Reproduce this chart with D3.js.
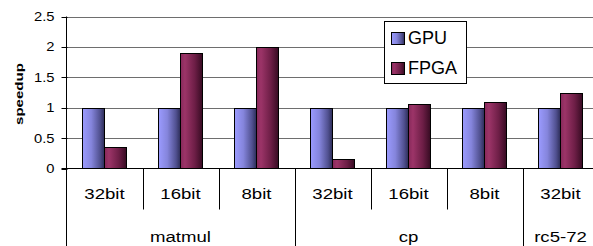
<!DOCTYPE html>
<html>
<head>
<meta charset="utf-8">
<script src="https://cdn.jsdelivr.net/npm/d3@7"></script>
<style>
  html, body { margin: 0; padding: 0; background: #fff; }
  svg { display: block; font-family: "Liberation Sans", Arial, sans-serif; }
</style>
</head>
<body>
<svg id="chart" width="593" height="246"></svg>
<script>
// ---- data ----
const categories = ["32bit", "16bit", "8bit", "32bit", "16bit", "8bit", "32bit"];
const groups = ["matmul", "cp", "rc5-72"];
const groupSizes = [3, 3, 1];
const series = ["GPU", "FPGA"];
const gpuValues = [1, 1, 1, 1, 1, 1, 1];
const fpgaValues = [0.36, 1.9, 2.0, 0.15, 1.06, 1.09, 1.25];
const yTicks = [0, 0.5, 1, 1.5, 2, 2.5];
const yTickLabels = ["0", "0.5", "1", "1.5", "2", "2.5"];
const yTitle = "speedup";

// ---- layout ----
const W = 593, H = 246;
const left = 66.5, step = 76;
const svg = d3.select("#chart");

const defs = svg.append("defs");
function grad(id, stops) {
  const g = defs.append("linearGradient").attr("id", id)
    .attr("x1", "0%").attr("x2", "100%").attr("y1", "0%").attr("y2", "0%");
  stops.forEach(([o, c]) => g.append("stop").attr("offset", o).attr("stop-color", c));
}
grad("gGPU", [["0%", "#9b9bff"], ["40%", "#8585dc"], ["80%", "#50508f"], ["100%", "#2c2c56"]]);
grad("gFPGA", [["0%", "#86295a"], ["20%", "#9c3468"], ["65%", "#6d1e46"], ["100%", "#360b22"]]);
const fills = { GPU: "url(#gGPU)", FPGA: "url(#gFPGA)" };

const x = d3.scaleBand().domain(d3.range(categories.length))
  .range([left, left + step * categories.length]).paddingInner(0).paddingOuter(0);
const xs = d3.scaleBand().domain(series).range([0, x.bandwidth()])
  .paddingInner(0).paddingOuter(16 / 22);
const y = d3.scaleLinear().domain([0, 2.5]).range([168.5, 16.5]);

svg.append("rect").attr("width", W).attr("height", H).attr("fill", "#fff");

// gridlines
svg.append("g").selectAll("line").data(yTicks.filter(d => d > 0)).join("line")
  .attr("x1", left).attr("x2", W)
  .attr("y1", d => Math.round(y(d)) + 0.5).attr("y2", d => Math.round(y(d)) + 0.5)
  .attr("stroke", "#6e6e6e").attr("stroke-width", 1);

// bars
const data = categories.map((c, i) => ({ i, GPU: gpuValues[i], FPGA: fpgaValues[i] }));
const bars = svg.append("g");
data.forEach(d => {
  series.forEach(s => {
    bars.append("rect")
      .attr("x", x(d.i) + xs(s))
      .attr("y", Math.round(y(d[s])) + 0.5)
      .attr("width", xs.bandwidth())
      .attr("height", y(0) - (Math.round(y(d[s])) + 0.5))
      .attr("fill", fills[s])
      .attr("stroke", "#000").attr("stroke-width", 1);
  });
});

// x axis line (baseline)
svg.append("line").attr("x1", left - 5).attr("x2", W)
  .attr("y1", y(0)).attr("y2", y(0)).attr("stroke", "#000");

// y axis line extending down through label area
svg.append("line").attr("x1", left).attr("x2", left)
  .attr("y1", y(2.5)).attr("y2", H).attr("stroke", "#000");

// y ticks
svg.append("g").selectAll("line").data(yTicks).join("line")
  .attr("x1", left - 5).attr("x2", left + 1)
  .attr("y1", d => Math.round(y(d)) + 0.5).attr("y2", d => Math.round(y(d)) + 0.5)
  .attr("stroke", "#000");
svg.append("g").selectAll("text").data(yTicks).join("text")
  .attr("transform", d => `translate(54.5,${y(d)}) scale(1.18,1)`)
  .attr("text-anchor", "end").attr("dy", "0.36em")
  .attr("font-size", 12.5).attr("fill", "#000")
  .text((d, i) => yTickLabels[i]);

// y title
svg.append("text")
  .attr("transform", "translate(22.5,94) rotate(-90) scale(1.37,1)")
  .attr("text-anchor", "middle")
  .attr("font-size", 11).attr("font-weight", "bold").attr("fill", "#000")
  .text(yTitle);

// category separators
const groupEnds = [];
groupSizes.reduce((acc, n) => { groupEnds.push(acc + n); return acc + n; }, 0);
d3.range(1, categories.length).forEach(i => {
  const isGroup = groupEnds.includes(i);
  svg.append("line")
    .attr("x1", Math.round(x(i)) + 0.5).attr("x2", Math.round(x(i)) + 0.5)
    .attr("y1", y(0)).attr("y2", isGroup ? H : 209.5)
    .attr("stroke", "#000");
});

// category labels
svg.append("g").selectAll("text").data(categories).join("text")
  .attr("transform", (d, i) => `translate(${x(i) + x.bandwidth() / 2},198.5) scale(1.2,1)`)
  .attr("text-anchor", "middle").attr("font-size", 15.5).attr("fill", "#000")
  .text(d => d);

// group labels
let start = 0;
groups.forEach((g, gi) => {
  const n = groupSizes[gi];
  const cx = (x(start) + x(start + n - 1) + x.bandwidth()) / 2;
  svg.append("text")
    .attr("transform", `translate(${cx},241.5) scale(1.2,1)`)
    .attr("text-anchor", "middle").attr("font-size", 15.5).attr("fill", "#000")
    .text(g);
  start += n;
});

// legend
const lg = svg.append("g");
lg.append("rect").attr("x", 384.5).attr("y", 21.5).attr("width", 82).attr("height", 62)
  .attr("fill", "#fff").attr("stroke", "#000");
series.forEach((s, i) => {
  lg.append("rect").attr("x", 391.5).attr("y", 32.5 + i * 30).attr("width", 13).attr("height", 12)
    .attr("fill", fills[s]).attr("stroke", "#000");
  lg.append("text").attr("x", 408).attr("y", 43.5 + i * 30)
    .attr("font-size", 18).attr("fill", "#000").text(s);
});
</script>
</body>
</html>
